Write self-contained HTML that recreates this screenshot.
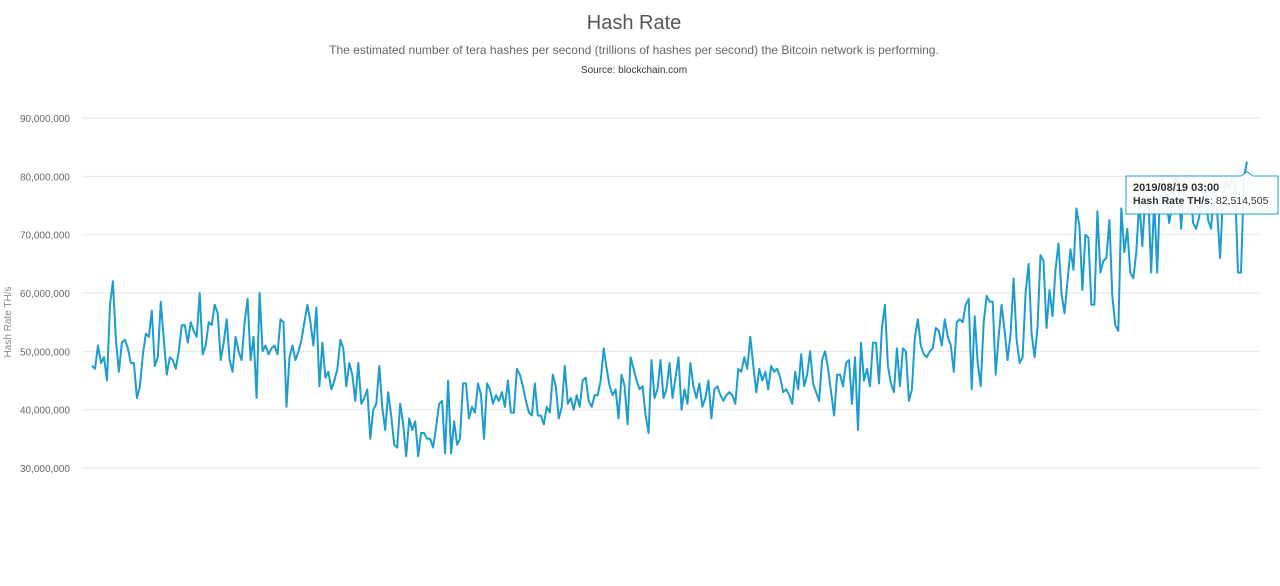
<!DOCTYPE html>
<html><head><meta charset="utf-8"><style>
body{margin:0;background:#fff;font-family:"Liberation Sans",sans-serif;}
svg{display:block}
</style></head><body>
<svg id="chart" width="1280" height="586" viewBox="0 0 1280 586">
<text x="634" y="29" text-anchor="middle" font-size="20" fill="#555">Hash Rate</text>
<text x="634" y="54" text-anchor="middle" font-size="12" fill="#666">The estimated number of tera hashes per second (trillions of hashes per second) the Bitcoin network is performing.</text>
<text x="634" y="73" text-anchor="middle" font-size="10" fill="#333">Source: blockchain.com</text>
<text transform="translate(11,322) rotate(-90)" text-anchor="middle" font-size="10" fill="#888">Hash Rate TH/s</text>
<g id="grid"></g>
<g id="ylabels"></g>
<path id="line" fill="none" stroke="#1c9ccf" stroke-width="2" stroke-linejoin="round"/>
<g id="tip"></g>
</svg>
<script>
const yTicks=[30,40,50,60,70,80,90];
const yTickLabels=["30,000,000","40,000,000","50,000,000","60,000,000","70,000,000","80,000,000","90,000,000"];
const hashRate=[47.5,47,51,48,49,45,58,62,52,46.5,
51.5,52,50.5,48,48,42,44,49.5,53,52.5,
57,47.5,49,58.5,52,46,49,48.5,47,50,
54.5,54.5,51.5,55,53.5,52.5,60,49.5,51,55,
54.5,58,56.5,48.5,51.5,55.5,48.5,46.5,52.5,50,
48.5,55,59,48.5,52.5,42,60,50,51,49.5,
50.5,51,49.5,55.5,55,40.5,49,51,48.5,50,
52,55,58,55,51,57.5,44,51.5,45.5,46.5,
43.5,45,47,52,50.5,44,48,46,41.5,48,
41,42,43.5,35,40,41,47.5,40.5,36.5,43,
39,34,33.5,41,37.5,32,38.5,36.5,38,32,
36,36,35,35,33.5,37,41,41.5,32.5,45,
32.5,38,34,35,44.5,44.5,38.5,40.5,39.5,44.5,
42.5,35,44.5,43.5,41,42.5,41.5,43,40.5,45,
39.5,39.5,47,46,44,41.5,39.5,39,44.5,39,
39,37.5,40.5,39.5,46,44,38.5,40.5,47.5,41,
42,40,42.5,40.5,45,45.5,41.5,40.5,42.5,42.5,
45,50.5,47,44,42.5,43.5,38.5,46,44,37.5,
49,47,45,43.5,44,39,36,48.5,42,43.5,
48.5,42,43.5,48,42,45.5,49,40,43.5,41,
48,44,42,44.5,40.5,42,45,38.5,43.5,44,
42.5,41.5,42.5,43,42.5,41,47,46.5,49,47,
52.5,47.5,43,47,45,46.5,43.5,47.5,46.5,47,
45.5,43,43.5,42.5,41,46.5,43.5,49.5,44,46,
50,44.5,43,41.5,48.5,50,47,43,39,46,
46,44,48,48.5,41,49,36.5,51.5,45,47,
44,51.5,51.5,44.5,54,58,47.5,44.5,43,50.5,
44,50.5,50,41.5,43.5,52.5,55.5,51,49.5,49,
50,50.5,54,53.5,51,55.5,52.5,51,46.5,55,
55.5,55,58,59,43.5,56,48,44,55,59.5,
58.5,58.5,46,52.5,58,53.5,48.5,53,62.5,52,
48,49,60,65,53,49,54,66.5,65.5,54,
60.5,56,64,68.5,60,56.5,62,67.5,64,74.5,
71.5,60.5,70,69.5,58,58,74,63.5,65.5,66,
72.5,59.5,54.5,53.5,74.5,67,71,63.5,62.5,67,
76,68,76.5,76.5,63.5,76,63.5,78.5,80,76,
72,75,80,79,71,79,80,79,72,71,
73,77.5,79,72.5,71,79,74,66,77,79,
78,80,78.5,63.5,63.5,80,82.514505];
const tipDate="2019/08/19 03:00";
const tipValue="82,514,505";

const NS="http://www.w3.org/2000/svg";
const X0=92,X1=1247,Y90=118,Y30=468;
function xs(i){return X0+(X1-X0)*i/(hashRate.length-1);}
function ys(v){return Y30-(v-30)*(Y30-Y90)/60;}
const grid=document.getElementById('grid'),yl=document.getElementById('ylabels');
yTicks.forEach((t,k)=>{
  const l=document.createElementNS(NS,'line');
  
  
  l.setAttribute('x1',82);l.setAttribute('x2',1260);l.setAttribute('y1',ys(t));l.setAttribute('y2',ys(t));
  l.setAttribute('stroke','#e6e6e6');l.setAttribute('stroke-width','1');
  grid.appendChild(l);
  const tx=document.createElementNS(NS,'text');
  
  
  tx.setAttribute('x',70);tx.setAttribute('y',ys(t)+4);tx.setAttribute('text-anchor','end');
  tx.setAttribute('font-size','10');tx.setAttribute('fill','#666');
  tx.textContent=yTickLabels[k];yl.appendChild(tx);
});
document.getElementById('line').setAttribute('d',hashRate.map((v,i)=>(i?'L':'M')+xs(i).toFixed(1)+','+ys(v).toFixed(1)).join(''));
const li=hashRate.length-1,px=xs(li),py=ys(hashRate[li]);
const tip=document.getElementById('tip');
tip.innerHTML=`<path d="M1126,176 L${px-6},176 L${px},${py+10} L${px+6},176 L1278,176 L1278,214 L1126,214 Z" fill="rgba(255,255,255,0.92)" stroke="#1c9ccf" stroke-width="1"/>
<text x="1133" y="191" font-size="11" font-weight="bold" fill="#333">${tipDate}</text>
<text x="1133" y="204" font-size="10.5" fill="#333"><tspan font-weight="bold">Hash Rate TH/s</tspan>: ${tipValue}</text>`;
</script>
</body></html>
